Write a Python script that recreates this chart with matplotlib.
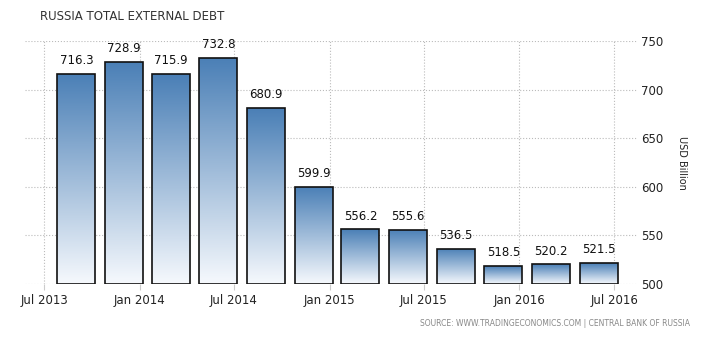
import matplotlib
matplotlib.use("Agg")
import matplotlib.pyplot as plt
import matplotlib.dates as mdates
import numpy as np
from datetime import datetime
from matplotlib.colors import LinearSegmentedColormap

dates = ["2013-09-01", "2013-12-01", "2014-03-01", "2014-06-01", "2014-09-01", "2014-12-01",
         "2015-03-01", "2015-06-01", "2015-09-01", "2015-12-01", "2016-03-01", "2016-06-01"]
values = [716.3, 728.9, 715.9, 732.8, 680.9, 599.9, 556.2, 555.6, 536.5, 518.5, 520.2, 521.5]
tick_dates = ["2013-07-01", "2014-01-01", "2014-07-01", "2015-01-01", "2015-07-01", "2016-01-01", "2016-07-01"]
tick_labels = ["Jul 2013", "Jan 2014", "Jul 2014", "Jan 2015", "Jul 2015", "Jan 2016", "Jul 2016"]
y_ticks = [500, 550, 600, 650, 700, 750]

fig = plt.figure(figsize=(7.03, 3.38), dpi=100)
ax = fig.add_axes([25/703, 1-284/338, (637-25)/703, (284-41)/338])

xd = [mdates.date2num(datetime.strptime(d, "%Y-%m-%d")) for d in dates]
width = 73
cmap = LinearSegmentedColormap.from_list("g", ["#f6f9fd", "#4a7fb6"])
grad = np.linspace(0, 1, 256).reshape(-1, 1)
base = 500
for x, v in zip(xd, values):
    bars = ax.bar(x, v - base, bottom=base, width=width, color="none",
                  edgecolor="#111111", linewidth=1.2, zorder=3)
    r = bars[0]
    im = ax.imshow(grad, extent=[x - width/2, x + width/2, base, v], origin="lower",
                   cmap=cmap, aspect="auto", zorder=2)
    im.set_clip_path(r)
    ax.text(x, v + 7, f"{v:.1f}", ha="center", va="bottom", fontsize=8.5, color="#111111")

ax.set_xlim(mdates.date2num(datetime(2013, 5, 25)), mdates.date2num(datetime(2016, 8, 14)))
ax.set_ylim(500, 750)
ax.set_xticks([mdates.date2num(datetime.strptime(d, "%Y-%m-%d")) for d in tick_dates])
ax.set_xticklabels(tick_labels, fontsize=8.5, color="#222222")
ax.set_yticks(y_ticks)
ax.yaxis.tick_right()
ax.set_yticklabels([str(t) for t in y_ticks], fontsize=8.5, color="#222222")
ax.tick_params(axis="y", length=0, pad=3)
ax.tick_params(axis="x", length=4, color="#cccccc", pad=3)
ax.grid(True, linestyle=":", color="#bbbbbb", linewidth=0.8, zorder=0)
for s in ax.spines.values():
    s.set_visible(False)
ax.set_ylabel("USD Billion", rotation=270, fontsize=7, color="#222222", labelpad=17)
ax.yaxis.set_label_position("right")

fig.text(40/703, 1-16/338, "RUSSIA TOTAL EXTERNAL DEBT", fontsize=8.5, color="#333333",
         ha="left", va="center")
fig.text(690/703, 1-324/338, "SOURCE: WWW.TRADINGECONOMICS.COM | CENTRAL BANK OF RUSSIA",
         fontsize=5.5, color="#888888", ha="right", va="center")

fig.savefig("out.png", dpi=100)
